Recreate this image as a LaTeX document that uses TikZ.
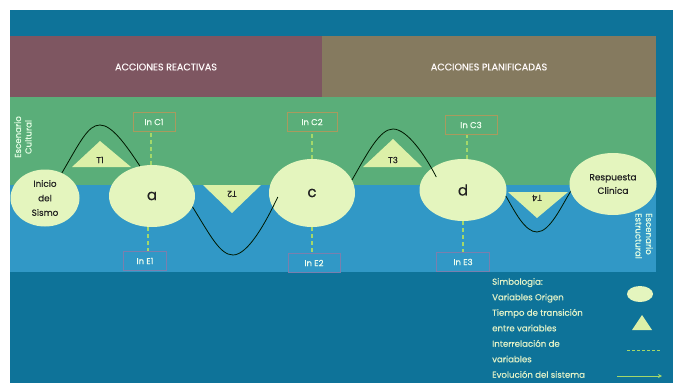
\documentclass[tikz,border=0pt]{standalone}
\usepackage{fontspec}
\setmainfont{Poppins}[FakeBold=0.5]
\usetikzlibrary{shapes.geometric,arrows.meta}

\definecolor{bgdark}{HTML}{0E7399}
\definecolor{bandblue}{HTML}{3198C6}
\definecolor{bandgreen}{HTML}{5AAE79}
\definecolor{reactive}{HTML}{7E5661}
\definecolor{planned}{HTML}{857A5F}
\definecolor{varfill}{HTML}{E4F5BE}
\definecolor{trifill}{HTML}{DCF0A8}
\definecolor{linkgreen}{HTML}{A3D86A}
\definecolor{cbox}{HTML}{A99A5E}
\definecolor{ebox}{HTML}{7A7FAE}
\definecolor{pale}{HTML}{E2F2C8}
\definecolor{darktext}{HTML}{222222}

\tikzset{
  var/.style={ellipse, fill=varfill, inner sep=0pt, text=darktext},
  tri/.style={fill=trifill},
  tlabel/.style={font=\fontsize{8.5}{10}\selectfont, text=darktext, inner sep=0pt},
  inbox/.style={draw=#1, line width=0.9pt, text=white!94!green, minimum height=19pt,
    font=\fontsize{8.5}{10}\selectfont, inner sep=0pt},
  link/.style={draw=linkgreen, dashed, dash pattern=on 4pt off 3pt, line width=1.3pt},
  evol/.style={draw=black!90!green, line width=0.8pt},
  band/.style={font=\fontsize{9.6}{11}\selectfont, text=white!92!pink},
  side/.style={font=\fontsize{8.6}{10.5}\selectfont, text=white!90!green, inner sep=0pt}
}

\begin{document}
\begin{tikzpicture}[x=1pt,y=-1pt]
  \useasboundingbox (0,0) rectangle (673,383);
  \fill[white] (0,0) rectangle (673,383);

  % background bands
  \fill[bgdark] (10,10) rectangle (673,383);
  \fill[reactive] (10,36) rectangle (322,97);
  \fill[planned] (322,36) rectangle (656,97);
  \fill[bandgreen] (10,97) rectangle (656,185);
  \fill[bandblue] (10,185) rectangle (656,272);

  \node[band] (reac) at (166,67) {ACCIONES REACTIVAS};
  \node[band] (plan) at (489,67) {ACCIONES PLANIFICADAS};

  \node[side, rotate=90, align=center] (cult) at (23,137) {Escenario\\Cultural};
  \node[side, rotate=-90, align=left] (estr) at (644,236) {Escenario\\Estructural};

  % transition triangles
  \fill[tri] (72,167) -- (100,141) -- (131,167) -- cycle;
  \fill[tri] (203,185) -- (232,213) -- (261,185) -- cycle;
  \fill[tri] (363,167) -- (393,139) -- (422,167) -- cycle;
  \fill[tri] (508,192) -- (537,218) -- (568,192) -- cycle;
  \node[tlabel] (t1) at (100,160) {T1};
  \node[tlabel, rotate=180] (t2) at (232,194) {T2};
  \node[tlabel] (t3) at (393,160) {T3};
  \node[tlabel, rotate=180] (t4) at (537,198) {T4};

  % source variables
  \node[var, minimum width=69pt, minimum height=57pt, align=center,
        font=\fontsize{8.8}{14.5}\selectfont] (s) at (45,198) {Inicio\\del\\Sismo};
  \node[var, minimum width=86pt, minimum height=62pt,
        font=\fontsize{15}{16}\selectfont] (a) at (152,196) {a};
  \node[var, minimum width=86pt, minimum height=68pt,
        font=\fontsize{15}{16}\selectfont] (c) at (312,193) {c};
  \node[var, minimum width=87pt, minimum height=62pt,
        font=\fontsize{15}{16}\selectfont] (d) at (463,190) {d};
  \node[var, minimum width=87pt, minimum height=62pt, align=center,
        font=\fontsize{9}{13.5}\selectfont] (r) at (613,184) {Respuesta\\Clinica};

  % indicator boxes
  \node[inbox=cbox, minimum width=42pt] (ic1) at (154,122) {In C1};
  \node[inbox=cbox, minimum width=50pt] (ic2) at (312,122) {In C2};
  \node[inbox=cbox, minimum width=52pt] (ic3) at (471,125) {In C3};
  \node[inbox=ebox, minimum width=43pt] (ie1) at (145,261) {In E1};
  \node[inbox=ebox, minimum width=52pt] (ie2) at (314,263) {In E2};
  \node[inbox=ebox, minimum width=53pt] (ie3) at (463,262) {In E3};

  % interrelations
  \draw[link] ([xshift=-1pt]a.north) -- ([xshift=-1pt]a.north |- ic1.south);
  \draw[link] ([xshift=-4pt]a.south) -- ([xshift=-4pt]a.south |- ie1.north);
  \draw[link] (c.north) -- (c.north |- ic2.south);
  \draw[link] (c.south) -- (c.south |- ie2.north);
  \draw[link] ([xshift=4pt]d.north) -- ([xshift=4pt]d.north |- ic3.south);
  \draw[link] (d.south) -- (d.south |- ie3.north);

  % system evolution
  \coordinate (c2in) at ([xshift=9pt,yshift=-4pt]c.west);
  \coordinate (c3in) at ([xshift=17pt,yshift=13pt]d.west);
  \draw[evol] (s.56) .. controls (80,142) and (88,125) .. (100,125)
              .. controls (112,125) and (126,145) .. (a.112);
  \draw[evol] (a.-15) .. controls (210,235) and (220,255) .. (233,255)
              .. controls (248,255) and (266,222) .. (c2in);
  \draw[evol] (c.18) .. controls (368,152) and (380,129) .. (393,129)
              .. controls (407,129) and (425,155) .. (c3in);
  \draw[evol] (d.-8) .. controls (515,212) and (525,232) .. (537,232)
              .. controls (550,232) and (562,205) .. (r.190);

  % legend
  \node[align=left, anchor=north west, inner sep=0pt, text=pale,
        font=\fontsize{8.6}{15.5}\selectfont] (leg) at (492,278)
    {Simbologia:\\Variables Origen\\Tiempo de transición\\entre variables\\Interrelación de\\variables\\Evolución del sistema};
  \node[var, minimum width=26pt, minimum height=16pt] (legvar) at (640,294) {};
  \fill[tri] (632,330) -- (642,315) -- (652,330) -- cycle;
  \coordinate (la) at (627,350);
  \coordinate (lb) at (660,350);
  \draw[link, line width=1pt, dash pattern=on 3pt off 2pt] (la) -- (lb);
  \coordinate (ea) at (617,376);
  \coordinate (eb) at (662,376);
  \draw[draw=linkgreen, line width=1pt, -{Stealth[length=4pt,width=4pt]}] (ea) -- (eb);
\end{tikzpicture}
\end{document}
